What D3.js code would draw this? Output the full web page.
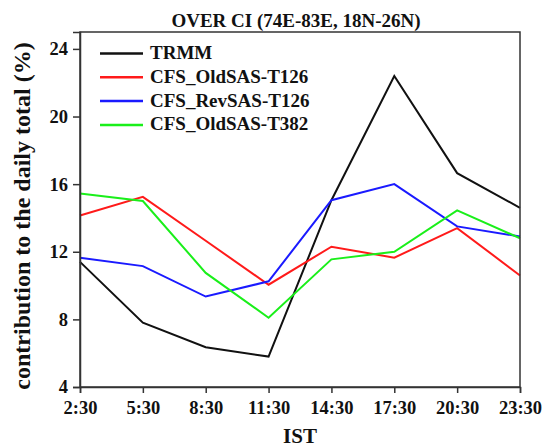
<!DOCTYPE html>
<html>
<head>
<meta charset="utf-8">
<script src="https://cdn.jsdelivr.net/npm/d3@7"></script>
<style>
  html, body { margin: 0; padding: 0; background: #fff; }
  svg text { font-family: "Liberation Serif", "Times New Roman", serif; font-weight: bold; fill: #111; }
</style>
</head>
<body>
<svg id="chart" width="544" height="448"></svg>
<script>
// Diurnal cycle of rainfall contribution over Central India
const times = ["2:30", "5:30", "8:30", "11:30", "14:30", "17:30", "20:30", "23:30"];
const trmm        = [11.4, 7.8, 6.35, 5.8, 15.05, 22.4, 16.65, 14.6];
const oldSasT126  = [14.15, 15.25, 12.65, 10.05, 12.3, 11.65, 13.4, 10.6];
const revSasT126  = [11.65, 11.15, 9.35, 10.25, 15.05, 16.0, 13.5, 12.9];
const oldSasT382  = [15.45, 15.0, 10.75, 8.1, 11.55, 12.0, 14.45, 12.8];
const yTicks = [4, 8, 12, 16, 20, 24];

const series = [
  { name: "TRMM",            color: "#111111", values: trmm },
  { name: "CFS_OldSAS-T126", color: "#ff1a1a", values: oldSasT126 },
  { name: "CFS_RevSAS-T126", color: "#1a1aff", values: revSasT126 },
  { name: "CFS_OldSAS-T382", color: "#1aef1a", values: oldSasT382 }
];

const svg = d3.select("#chart");
const margin = { left: 80, right: 24, top: 32, bottom: 61 };
const W = 544, H = 448;
const x = d3.scalePoint().domain(times).range([margin.left, W - margin.right]);
const y = d3.scaleLinear().domain([4, 25]).range([H - margin.bottom, margin.top]);

// Series lines
const line = d3.line().x((d, i) => x(times[i])).y(d => y(d));
svg.append("g").selectAll("path").data(series).join("path")
  .attr("d", s => line(s.values))
  .attr("fill", "none")
  .attr("stroke", s => s.color)
  .attr("stroke-width", 2)
  .attr("stroke-linejoin", "miter");

// Plot frame
svg.append("rect")
  .attr("x", margin.left).attr("y", margin.top)
  .attr("width", W - margin.right - margin.left)
  .attr("height", H - margin.bottom - margin.top)
  .attr("fill", "none").attr("stroke", "#333").attr("stroke-width", 1.5);

// Axes
const xAxis = svg.append("g")
  .attr("transform", `translate(0,${H - margin.bottom})`)
  .call(d3.axisBottom(x).tickSize(6).tickPadding(8));
const yAxis = svg.append("g")
  .attr("transform", `translate(${margin.left},0)`)
  .call(d3.axisLeft(y).tickValues(yTicks).tickSize(7).tickPadding(5));
[xAxis, yAxis].forEach(a => {
  a.select(".domain").attr("stroke", "#333").attr("stroke-width", 1.5);
  a.selectAll(".tick line").attr("stroke", "#333").attr("stroke-width", 1.5);
  a.selectAll(".tick text").attr("font-size", 18.5).attr("fill", "#111")
    .style("font-family", "'Liberation Serif', serif").style("font-weight", "bold");
});

// Title and axis titles
svg.append("text").attr("x", 296).attr("y", 27).attr("text-anchor", "middle")
  .attr("font-size", 19).text("OVER CI (74E-83E, 18N-26N)");
svg.append("text").attr("x", 300).attr("y", 443).attr("text-anchor", "middle")
  .attr("font-size", 21).text("IST");
svg.append("text")
  .attr("transform", `translate(30,216) rotate(-90)`)
  .attr("text-anchor", "middle").attr("font-size", 24)
  .text("contribution to the daily total (%)");

// Legend
const legend = svg.append("g").selectAll("g").data(series).join("g")
  .attr("transform", (d, i) => `translate(100,${53.5 + i * 23.8})`);
legend.append("line").attr("x1", 0).attr("x2", 43).attr("y1", 0).attr("y2", 0)
  .attr("stroke", d => d.color).attr("stroke-width", 2.5);
legend.append("text").attr("x", 50).attr("y", 5.5).attr("font-size", 19).text(d => d.name);
</script>
</body>
</html>
